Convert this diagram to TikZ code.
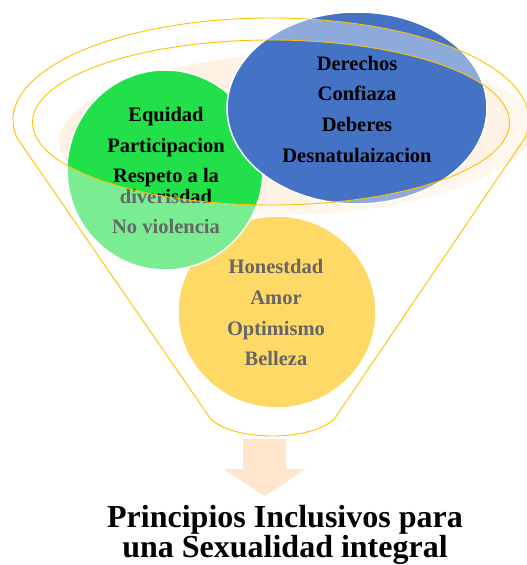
\documentclass[tikz,border=0pt]{standalone}
\usepackage{fontspec}
\setmainfont{Liberation Serif}
\begin{document}
\begin{tikzpicture}[x=1pt,y=-1pt,
  circ/.style={draw=white,line width=1.5pt},
  lbl/.style={anchor=base,inner sep=0pt,font=\fontsize{20.5}{24}\selectfont\bfseries,text=black},
  ttl/.style={anchor=base,inner sep=0pt,font=\fontsize{32}{36}\selectfont\bfseries,text=black},
  rim/.style={draw=rimc,line width=0.9pt,line join=round}]
\useasboundingbox (0,0) rectangle (527,565);
\definecolor{peach}{HTML}{FEF2E4}
\definecolor{bblue}{HTML}{4472C4}
\definecolor{bgreen}{HTML}{22E04A}
\definecolor{byellow}{HTML}{FFC000}
\definecolor{arrowc}{HTML}{FFE6CC}
\definecolor{rimc}{HTML}{FFC000}
% peach backdrop
\fill[peach,rotate around={2:(296,134)}] (296,134) ellipse [x radius=237, y radius=81];
% circles
\path[fill=byellow,circ] (277,312) ellipse [x radius=99, y radius=96];
\path[fill=bgreen,circ] (165,170) ellipse [x radius=98, y radius=100];
\path[fill=bblue,circ] (357,108) ellipse [x radius=130, y radius=96];
% texts
\node[lbl] (b1) at (357,70) {Derechos};
\node[lbl] (b2) at (357,100) {Confiaza};
\node[lbl] (b3) at (357,131) {Deberes};
\node[lbl] (b4) at (357,162) {Desnatulaizacion};
\node[lbl] (g1) at (166,121) {Equidad};
\node[lbl] (g2) at (166,152) {Participacion};
\node[lbl] (g3) at (166,182) {Respeto a la};
\node[lbl] (g4) at (166,203) {diverisdad};
\node[lbl] (g5) at (166,233) {No violencia};
\node[lbl] (y1) at (276,273) {Honestdad};
\node[lbl] (y2) at (276,304) {Amor};
\node[lbl] (y3) at (276,335) {Optimismo};
\node[lbl] (y4) at (276,365) {Belleza};
% funnel veil
\fill[white,fill opacity=0.4,even odd rule]
  (271,120) ++(170:258 and 102) arc[start angle=170,end angle=370,x radius=258,y radius=102]
  -- (335,418) .. controls (313,442) and (232,442) .. (210,418) -- cycle
  (271,122.5) ellipse [x radius=238.5, y radius=82.5];
% funnel outline
\draw[rim]
  (271,120) ++(170:258 and 102) arc[start angle=170,end angle=370,x radius=258,y radius=102]
  -- (335,418) .. controls (313,442) and (232,442) .. (210,418) -- cycle;
\draw[rim] (271,122.5) ellipse [x radius=238.5, y radius=82.5];
% arrow
\fill[arrowc] (243,439) -- (286,439) -- (286,469) -- (306,469) -- (265,496) -- (223,469) -- (243,469) -- cycle;
% title
\node[ttl] (t1) at (285,527) {Principios Inclusivos para};
\node[ttl] (t2) at (285,557) {una Sexualidad integral};
\end{tikzpicture}
\end{document}
